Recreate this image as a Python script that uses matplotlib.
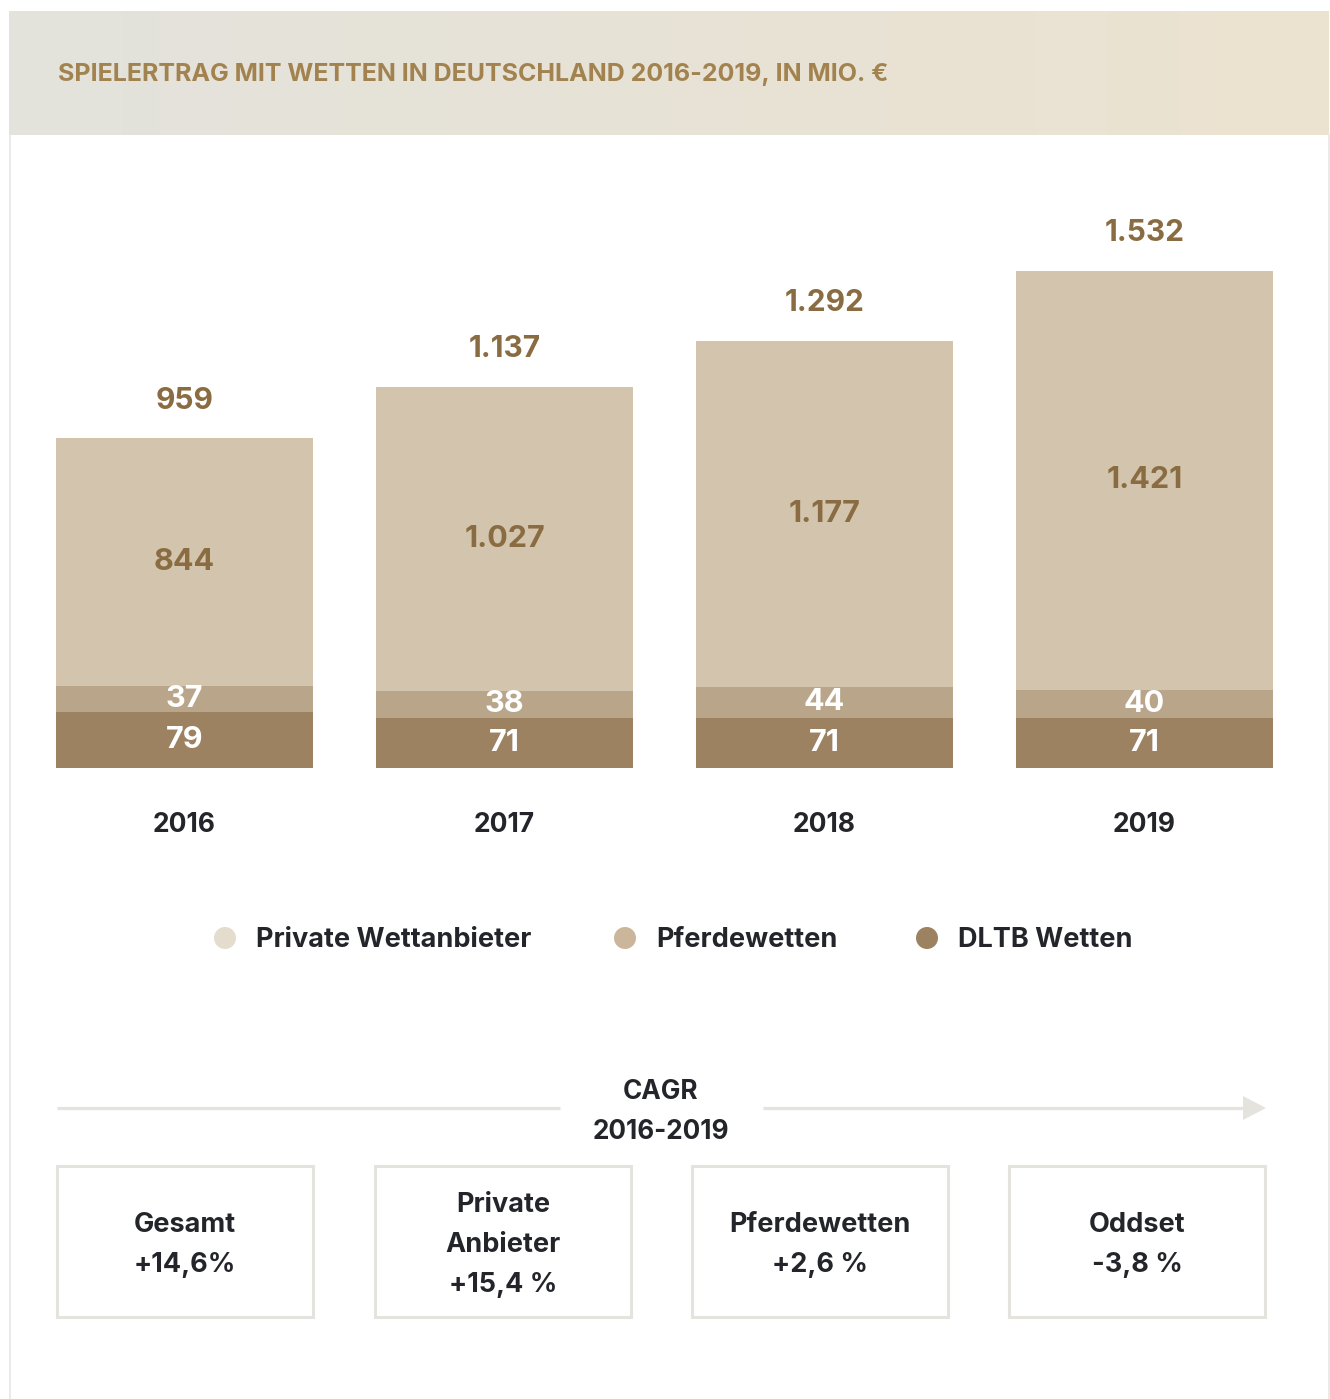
import numpy as np
import matplotlib
matplotlib.use("Agg")
import matplotlib.pyplot as plt
from matplotlib.patches import Rectangle, Circle, Polygon

# ---------------- data ----------------
years = ["2016", "2017", "2018", "2019"]
dltb = [79, 71, 71, 71]
pferde = [37, 38, 44, 40]
private = [844, 1027, 1177, 1421]
totals = [959, 1137, 1292, 1532]
series_names = ["Private Wettanbieter", "Pferdewetten", "DLTB Wetten"]
title = "SPIELERTRAG MIT WETTEN IN DEUTSCHLAND 2016-2019, IN MIO. €"
cagr_head = "CAGR\n2016-2019"
cagr_titles = ["Gesamt", "Private\nAnbieter", "Pferdewetten", "Oddset"]
cagr_values = ["+14,6%", "+15,4 %", "+2,6 %", "-3,8 %"]

# ---------------- style ----------------
FONT = "Inter"
plt.rcParams['font.family'] = [FONT, 'DejaVu Sans']
C_PRIV = "#d3c4ad"
C_PFERD = "#b9a68a"
C_DLTB = "#9c8260"
LEG_COLORS = ["#e4dccd", "#ccb69b", "#9c8260"]
C_TEXT = "#23252a"
C_BROWN = "#8a6c42"
C_TITLE = "#a2834f"
C_LINE = "#e4e3de"

def fmt(v):
    return f"{v:,}".replace(",", ".")

W, H = 1330, 1399
fig = plt.figure(figsize=(W / 100, H / 100), dpi=100)
fig.patch.set_facecolor("white")

# decoration layer in pixel coordinates
bg = fig.add_axes([0, 0, 1, 1], zorder=0)
bg.set_xlim(0, W)
bg.set_ylim(H, 0)
bg.axis("off")

# header gradient
c0 = np.array([0xe3, 0xe2, 0xdc]) / 255
c1 = np.array([0xec, 0xe2, 0xd0]) / 255
t = np.linspace(0, 1, 256)[None, :, None]
grad = c0 + (c1 - c0) * t
bg.imshow(grad, extent=(9, 1329, 135, 11), aspect="auto", zorder=0)
bg.text(58, 75, title, color=C_TITLE, fontsize=18.0, fontweight="bold",
        va="center", ha="left")
# card borders
bg.plot([10, 10], [135, H], color="#e8e6e1", lw=1.2)
bg.plot([1329, 1329], [135, H], color="#e8e6e1", lw=1.2)

# ---------------- bar chart ----------------
B, K = 120.0, 2.42
def fwd(y):
    y = np.asarray(y, float)
    return np.where(y <= B, y * K, B * K + (y - B))
def inv(v):
    v = np.asarray(v, float)
    return np.where(v <= B * K, v / K, v - B * K + B)

px_bottom, px_top = 768, 168
ax = fig.add_axes([24.5 / W, (H - px_bottom) / H, 1280 / W, (px_bottom - px_top) / H], zorder=1)
ax.patch.set_alpha(0)
ax.set_yscale("function", functions=(fwd, inv))
ytop = float(inv((px_bottom - px_top) / 0.292))
ax.set_ylim(0, ytop)
ax.set_xlim(-0.5, 3.5)
ax.axis("off")

x = np.arange(len(years))
bw = 0.803
d = np.array(dltb); p = np.array(pferde); pr = np.array(private)
ax.bar(x, d, bw, color=C_DLTB, linewidth=0)
ax.bar(x, p, bw, bottom=d, color=C_PFERD, linewidth=0)
ax.bar(x, pr, bw, bottom=d + p, color=C_PRIV, linewidth=0)

def mid(lo, hi):
    return float(inv((fwd(lo) + fwd(hi)) / 2))

for i in range(len(years)):
    ax.text(x[i], mid(0, d[i]), fmt(d[i]), ha="center", va="center",
            color="white", fontsize=22, fontweight="bold")
    ax.text(x[i], mid(d[i], d[i] + p[i]), fmt(p[i]), ha="center", va="center",
            color="white", fontsize=22, fontweight="bold")
    ax.text(x[i], mid(d[i] + p[i], d[i] + p[i] + pr[i]), fmt(pr[i]), ha="center",
            va="center", color=C_BROWN, fontsize=22, fontweight="bold")
    ax.annotate(fmt(totals[i]), (x[i], totals[i]), xytext=(0, 27),
                textcoords="offset points", ha="center", va="center",
                color=C_BROWN, fontsize=21.5, fontweight="bold")
    ax.annotate(years[i], (x[i], 0), xytext=(0, -41), textcoords="offset points",
                ha="center", va="center", color=C_TEXT, fontsize=19, fontweight="bold")

# ---------------- legend ----------------
leg_x = [225, 625, 927]
for lx, name, col in zip(leg_x, series_names, LEG_COLORS):
    bg.add_patch(Circle((lx, 938), 11, color=col, lw=0))
    bg.text(lx + 31, 940, name, ha="left", va="center", color=C_TEXT,
            fontsize=19.5, fontweight="bold")

# ---------------- CAGR section ----------------
bg.text(661, 1112, cagr_head, ha="center", va="center", color=C_TEXT,
        fontsize=18.8, fontweight="bold", linespacing=1.72)
bg.plot([57, 560], [1108, 1108], color=C_LINE, lw=2.3, solid_capstyle="butt")
bg.plot([763, 1245], [1108, 1108], color=C_LINE, lw=2.3, solid_capstyle="butt")
bg.add_patch(Polygon([[1243, 1096], [1243, 1120], [1266, 1108]], closed=True,
                     color=C_LINE, lw=0))

box_x = [57, 375, 692, 1009]
for bx, tt, vv in zip(box_x, cagr_titles, cagr_values):
    bg.add_patch(Rectangle((bx, 1166), 256, 151, fill=False, ec=C_LINE, lw=2.2))
    bg.text(bx + 128, 1245, tt + "\n" + vv, ha="center", va="center",
            multialignment="center", color=C_TEXT, fontsize=19.5,
            fontweight="bold", linespacing=1.7)

fig.savefig("out.png", dpi=100)
